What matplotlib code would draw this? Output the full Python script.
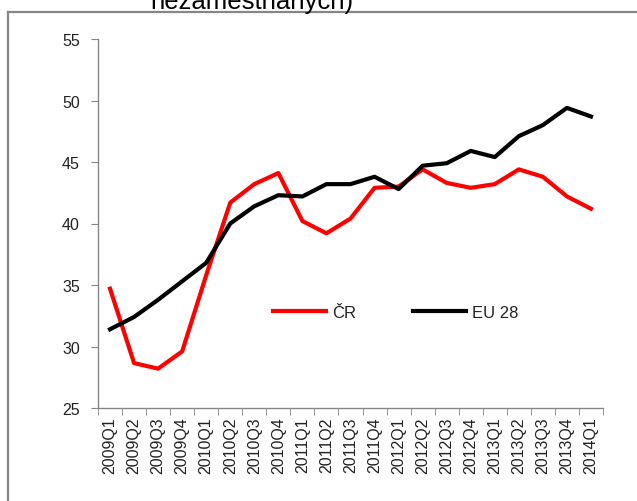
import matplotlib
matplotlib.use("Agg")
import matplotlib.pyplot as plt
from matplotlib.lines import Line2D
import numpy as np

# data
quarters = ['2009Q1', '2009Q2', '2009Q3', '2009Q4',
            '2010Q1', '2010Q2', '2010Q3', '2010Q4',
            '2011Q1', '2011Q2', '2011Q3', '2011Q4',
            '2012Q1', '2012Q2', '2012Q3', '2012Q4',
            '2013Q1', '2013Q2', '2013Q3', '2013Q4',
            '2014Q1']
cr = [34.7, 28.65, 28.2, 29.6, 35.8, 41.7, 43.2, 44.1, 40.2, 39.2, 40.4,
      42.9, 43.0, 44.4, 43.3, 42.9, 43.2, 44.4, 43.8, 42.2, 41.2]
eu28 = [31.4, 32.4, 33.8, 35.3, 36.8, 40.0, 41.4, 42.3, 42.2, 43.2, 43.2,
        43.8, 42.8, 44.7, 44.9, 45.9, 45.4, 47.1, 48.0, 49.4, 48.7]
yticks = [25, 30, 35, 40, 45, 50, 55]

plt.rcParams['font.family'] = ['Liberation Sans', 'DejaVu Sans']

W, H = 637, 502
fig = plt.figure(figsize=(W / 100, H / 100), dpi=100)
fig.patch.set_facecolor('white')

# outer chart-area border (only top and left visible, rest is cropped)
bc = '#868686'
fig.add_artist(Line2D([8 / W, 1], [1 - 13 / H, 1 - 13 / H], color=bc, lw=1.6,
                      transform=fig.transFigure))
fig.add_artist(Line2D([8 / W, 8 / W], [0, 1 - 13 / H], color=bc, lw=1.6,
                      transform=fig.transFigure))

# cut-off title line at the very top
fig.text(252 / W, 1 - 9 / H, 'nezaměstnaných)', ha='center', va='baseline',
         fontsize=18.5, color='black')

ax = fig.add_axes([98 / W, 1 - 409 / H, (603 - 98) / W, (409 - 40) / H])
x = np.arange(len(quarters))
ax.plot(x, cr, color='#ff0000', lw=3, solid_joinstyle='round', label='ČR')
ax.plot(x, eu28, color='black', lw=3, solid_joinstyle='round', label='EU 28')

ax.set_xlim(-0.5, len(quarters) - 0.5)
ax.set_ylim(25, 55)
ax.set_yticks(yticks)
ax.set_yticklabels([str(v) for v in yticks], fontsize=11.5, color='#222222')

ax.set_xticks(x)
ax.set_xticklabels(quarters, rotation=90, fontsize=11.5, color='#222222')
ax.set_xticks(np.arange(len(quarters) + 1) - 0.5, minor=True)
ax.tick_params(axis='x', which='major', length=0, pad=6)
ax.tick_params(axis='x', which='minor', length=5, color=bc, direction='out')
ax.tick_params(axis='y', length=5, color=bc, direction='out', pad=8)

for s in ['top', 'right']:
    ax.spines[s].set_visible(False)
for s in ['left', 'bottom']:
    ax.spines[s].set_color(bc)
    ax.spines[s].set_linewidth(1)

leg = ax.legend(loc='center left', bbox_to_anchor=((273 - 98) / 505, (409 - 313) / 369),
                ncol=2, frameon=False, fontsize=12, handlelength=3.2,
                handletextpad=0.35, columnspacing=3.4, borderpad=0, borderaxespad=0)
for t in leg.get_texts():
    t.set_color('#222222')

fig.savefig('out.png', dpi=100)
